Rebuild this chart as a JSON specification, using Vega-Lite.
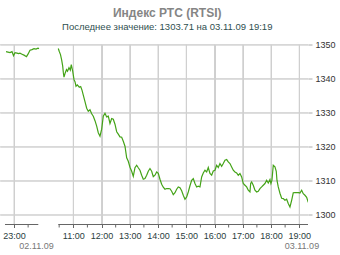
{
  "$schema": "https://vega.github.io/schema/vega-lite/v6.json",
  "width": 308,
  "height": 180,
  "autosize": "none",
  "padding": {"left": 0, "top": 44.5, "right": 32, "bottom": 30.5},
  "background": "white",
  "config": {"view": {"stroke": null}, "font": "Liberation Sans"},
  "title": {
    "text": "Индекс РТС (RTSI)",
    "subtitle": "Последнее значение: 1303.71 на 03.11.09 19:19",
    "anchor": "middle",
    "frame": "bounds",
    "font": "Liberation Sans",
    "fontSize": 12,
    "fontWeight": "bold",
    "color": "#858585",
    "subtitleFont": "Liberation Sans",
    "subtitleFontSize": 9.5,
    "subtitleColor": "#2f4f4f",
    "subtitlePadding": 2.5,
    "offset": 8
  },
  "layer": [
    {
      "data": {"values": [{"t": -0.099}, {"t": 2}, {"t": 3}, {"t": 4}, {"t": 5}, {"t": 6}, {"t": 7}, {"t": 8}, {"t": 9}, {"t": 10}]},
      "mark": {"type": "rule", "color": "#d0d0d0", "strokeWidth": 1},
      "encoding": {
        "x": {"field": "t", "type": "quantitative"}
      }
    },
    {
      "data": {"values": [{"v": 1300}, {"v": 1310}, {"v": 1320}, {"v": 1330}, {"v": 1340}, {"v": 1350}]},
      "mark": {"type": "rule", "color": "#d0d0d0", "strokeWidth": 1},
      "encoding": {
        "y": {"field": "v", "type": "quantitative"}
      }
    },
    {
      "data": {"values": [
        {"seg": 1, "t": -0.382, "v": 1348.0},
        {"seg": 1, "t": -0.312, "v": 1347.85},
        {"seg": 1, "t": -0.241, "v": 1347.71},
        {"seg": 1, "t": -0.17, "v": 1348.0},
        {"seg": 1, "t": -0.117, "v": 1346.82},
        {"seg": 1, "t": -0.064, "v": 1347.71},
        {"seg": 1, "t": 0.007, "v": 1347.56},
        {"seg": 1, "t": 0.06, "v": 1347.41},
        {"seg": 1, "t": 0.113, "v": 1347.56},
        {"seg": 1, "t": 0.184, "v": 1347.26},
        {"seg": 1, "t": 0.255, "v": 1346.97},
        {"seg": 1, "t": 0.343, "v": 1346.53},
        {"seg": 1, "t": 0.396, "v": 1347.26},
        {"seg": 1, "t": 0.467, "v": 1348.44},
        {"seg": 1, "t": 0.538, "v": 1348.59},
        {"seg": 1, "t": 0.609, "v": 1348.88},
        {"seg": 1, "t": 0.68, "v": 1348.74},
        {"seg": 1, "t": 0.75, "v": 1349.03},
        {"seg": 1, "t": 0.786, "v": 1348.88},
        {"seg": 2, "t": 1.469, "v": 1348.94},
        {"seg": 2, "t": 1.504, "v": 1348.06},
        {"seg": 2, "t": 1.547, "v": 1347.12},
        {"seg": 2, "t": 1.589, "v": 1345.5},
        {"seg": 2, "t": 1.625, "v": 1343.74},
        {"seg": 2, "t": 1.646, "v": 1341.97},
        {"seg": 2, "t": 1.671, "v": 1340.5},
        {"seg": 2, "t": 1.717, "v": 1341.82},
        {"seg": 2, "t": 1.759, "v": 1342.71},
        {"seg": 2, "t": 1.795, "v": 1342.26},
        {"seg": 2, "t": 1.848, "v": 1343.29},
        {"seg": 2, "t": 1.894, "v": 1342.56},
        {"seg": 2, "t": 1.929, "v": 1344.18},
        {"seg": 2, "t": 1.979, "v": 1342.26},
        {"seg": 2, "t": 2.025, "v": 1339.76},
        {"seg": 2, "t": 2.06, "v": 1339.18},
        {"seg": 2, "t": 2.096, "v": 1337.85},
        {"seg": 2, "t": 2.142, "v": 1338.24},
        {"seg": 2, "t": 2.212, "v": 1337.56},
        {"seg": 2, "t": 2.262, "v": 1337.76},
        {"seg": 2, "t": 2.308, "v": 1336.68},
        {"seg": 2, "t": 2.354, "v": 1335.21},
        {"seg": 2, "t": 2.414, "v": 1333.29},
        {"seg": 2, "t": 2.474, "v": 1331.38},
        {"seg": 2, "t": 2.531, "v": 1330.5},
        {"seg": 2, "t": 2.591, "v": 1330.94},
        {"seg": 2, "t": 2.651, "v": 1329.76},
        {"seg": 2, "t": 2.708, "v": 1329.03},
        {"seg": 2, "t": 2.768, "v": 1327.71},
        {"seg": 2, "t": 2.828, "v": 1326.09},
        {"seg": 2, "t": 2.885, "v": 1324.18},
        {"seg": 2, "t": 2.945, "v": 1323.15},
        {"seg": 2, "t": 3.005, "v": 1325.21},
        {"seg": 2, "t": 3.062, "v": 1329.03},
        {"seg": 2, "t": 3.122, "v": 1329.91},
        {"seg": 2, "t": 3.182, "v": 1328.82},
        {"seg": 2, "t": 3.239, "v": 1329.03},
        {"seg": 2, "t": 3.299, "v": 1326.88},
        {"seg": 2, "t": 3.359, "v": 1328.35},
        {"seg": 2, "t": 3.416, "v": 1328.15},
        {"seg": 2, "t": 3.476, "v": 1326.68},
        {"seg": 2, "t": 3.536, "v": 1324.47},
        {"seg": 2, "t": 3.593, "v": 1323.74},
        {"seg": 2, "t": 3.653, "v": 1322.94},
        {"seg": 2, "t": 3.713, "v": 1322.85},
        {"seg": 2, "t": 3.77, "v": 1321.68},
        {"seg": 2, "t": 3.83, "v": 1320.21},
        {"seg": 2, "t": 3.89, "v": 1316.82},
        {"seg": 2, "t": 3.947, "v": 1315.79},
        {"seg": 2, "t": 4.007, "v": 1314.03},
        {"seg": 2, "t": 4.067, "v": 1312.85},
        {"seg": 2, "t": 4.124, "v": 1311.38},
        {"seg": 2, "t": 4.184, "v": 1313.88},
        {"seg": 2, "t": 4.244, "v": 1314.62},
        {"seg": 2, "t": 4.301, "v": 1313.88},
        {"seg": 2, "t": 4.361, "v": 1313.15},
        {"seg": 2, "t": 4.421, "v": 1311.68},
        {"seg": 2, "t": 4.478, "v": 1310.5},
        {"seg": 2, "t": 4.538, "v": 1310.71},
        {"seg": 2, "t": 4.598, "v": 1311.68},
        {"seg": 2, "t": 4.655, "v": 1312.85},
        {"seg": 2, "t": 4.715, "v": 1313.65},
        {"seg": 2, "t": 4.775, "v": 1312.85},
        {"seg": 2, "t": 4.832, "v": 1311.24},
        {"seg": 2, "t": 4.892, "v": 1311.68},
        {"seg": 2, "t": 4.952, "v": 1312.65},
        {"seg": 2, "t": 5.009, "v": 1312.26},
        {"seg": 2, "t": 5.069, "v": 1310.5},
        {"seg": 2, "t": 5.129, "v": 1309.03},
        {"seg": 2, "t": 5.186, "v": 1308.15},
        {"seg": 2, "t": 5.246, "v": 1307.56},
        {"seg": 2, "t": 5.306, "v": 1307.76},
        {"seg": 2, "t": 5.363, "v": 1307.76},
        {"seg": 2, "t": 5.423, "v": 1307.71},
        {"seg": 2, "t": 5.483, "v": 1306.97},
        {"seg": 2, "t": 5.54, "v": 1305.94},
        {"seg": 2, "t": 5.6, "v": 1306.53},
        {"seg": 2, "t": 5.66, "v": 1307.56},
        {"seg": 2, "t": 5.717, "v": 1308.24},
        {"seg": 2, "t": 5.777, "v": 1308.0},
        {"seg": 2, "t": 5.837, "v": 1307.12},
        {"seg": 2, "t": 5.894, "v": 1305.79},
        {"seg": 2, "t": 5.954, "v": 1304.62},
        {"seg": 2, "t": 6.014, "v": 1305.29},
        {"seg": 2, "t": 6.071, "v": 1306.76},
        {"seg": 2, "t": 6.131, "v": 1308.59},
        {"seg": 2, "t": 6.191, "v": 1310.21},
        {"seg": 2, "t": 6.248, "v": 1310.71},
        {"seg": 2, "t": 6.308, "v": 1309.24},
        {"seg": 2, "t": 6.368, "v": 1308.24},
        {"seg": 2, "t": 6.425, "v": 1308.44},
        {"seg": 2, "t": 6.485, "v": 1308.24},
        {"seg": 2, "t": 6.545, "v": 1311.18},
        {"seg": 2, "t": 6.602, "v": 1312.35},
        {"seg": 2, "t": 6.662, "v": 1313.15},
        {"seg": 2, "t": 6.722, "v": 1312.65},
        {"seg": 2, "t": 6.779, "v": 1313.94},
        {"seg": 2, "t": 6.839, "v": 1312.18},
        {"seg": 2, "t": 6.899, "v": 1311.68},
        {"seg": 2, "t": 6.956, "v": 1312.94},
        {"seg": 2, "t": 7.016, "v": 1313.15},
        {"seg": 2, "t": 7.076, "v": 1314.62},
        {"seg": 2, "t": 7.133, "v": 1313.94},
        {"seg": 2, "t": 7.193, "v": 1315.12},
        {"seg": 2, "t": 7.253, "v": 1314.32},
        {"seg": 2, "t": 7.31, "v": 1315.12},
        {"seg": 2, "t": 7.37, "v": 1316.09},
        {"seg": 2, "t": 7.43, "v": 1316.29},
        {"seg": 2, "t": 7.487, "v": 1315.59},
        {"seg": 2, "t": 7.547, "v": 1315.12},
        {"seg": 2, "t": 7.607, "v": 1314.12},
        {"seg": 2, "t": 7.664, "v": 1313.15},
        {"seg": 2, "t": 7.724, "v": 1312.65},
        {"seg": 2, "t": 7.784, "v": 1312.35},
        {"seg": 2, "t": 7.841, "v": 1311.68},
        {"seg": 2, "t": 7.901, "v": 1312.18},
        {"seg": 2, "t": 7.961, "v": 1311.18},
        {"seg": 2, "t": 8.018, "v": 1309.24},
        {"seg": 2, "t": 8.078, "v": 1308.74},
        {"seg": 2, "t": 8.138, "v": 1308.24},
        {"seg": 2, "t": 8.195, "v": 1307.26},
        {"seg": 2, "t": 8.255, "v": 1306.76},
        {"seg": 2, "t": 8.28, "v": 1309.24},
        {"seg": 2, "t": 8.315, "v": 1309.71},
        {"seg": 2, "t": 8.372, "v": 1308.74},
        {"seg": 2, "t": 8.432, "v": 1307.26},
        {"seg": 2, "t": 8.492, "v": 1306.76},
        {"seg": 2, "t": 8.549, "v": 1306.97},
        {"seg": 2, "t": 8.609, "v": 1307.76},
        {"seg": 2, "t": 8.669, "v": 1308.24},
        {"seg": 2, "t": 8.726, "v": 1308.74},
        {"seg": 2, "t": 8.786, "v": 1309.24},
        {"seg": 2, "t": 8.846, "v": 1310.21},
        {"seg": 2, "t": 8.903, "v": 1309.41},
        {"seg": 2, "t": 8.963, "v": 1310.41},
        {"seg": 2, "t": 8.998, "v": 1309.24},
        {"seg": 2, "t": 9.034, "v": 1310.21},
        {"seg": 2, "t": 9.08, "v": 1314.62},
        {"seg": 2, "t": 9.14, "v": 1314.12},
        {"seg": 2, "t": 9.186, "v": 1312.85},
        {"seg": 2, "t": 9.211, "v": 1310.21},
        {"seg": 2, "t": 9.257, "v": 1308.24},
        {"seg": 2, "t": 9.317, "v": 1306.38},
        {"seg": 2, "t": 9.377, "v": 1304.91},
        {"seg": 2, "t": 9.434, "v": 1304.82},
        {"seg": 2, "t": 9.494, "v": 1304.32},
        {"seg": 2, "t": 9.554, "v": 1304.62},
        {"seg": 2, "t": 9.611, "v": 1303.35},
        {"seg": 2, "t": 9.671, "v": 1302.35},
        {"seg": 2, "t": 9.731, "v": 1304.32},
        {"seg": 2, "t": 9.788, "v": 1306.53},
        {"seg": 2, "t": 9.848, "v": 1306.59},
        {"seg": 2, "t": 9.908, "v": 1306.59},
        {"seg": 2, "t": 9.965, "v": 1306.59},
        {"seg": 2, "t": 10.025, "v": 1306.47},
        {"seg": 2, "t": 10.085, "v": 1307.26},
        {"seg": 2, "t": 10.142, "v": 1306.24},
        {"seg": 2, "t": 10.202, "v": 1305.79},
        {"seg": 2, "t": 10.262, "v": 1305.21},
        {"seg": 2, "t": 10.319, "v": 1303.71}
      ]},
      "mark": {"type": "line", "color": "#44a318", "strokeWidth": 1.2, "clip": true},
      "encoding": {
        "x": {
          "field": "t", "type": "quantitative",
          "scale": {"domain": [-0.595, 10.31], "nice": false, "zero": false},
          "axis": {
            "orient": "bottom",
            "title": null,
            "values": [-0.099, 2, 3, 4, 5, 6, 7, 8, 9, 10],
            "tickCount": 40,
            "labelExpr": "datum.value < 0 ? '23:00' : (datum.value + 9) + ':00'",
            "labelFont": "Liberation Sans",
            "labelFontSize": 9,
            "labelColor": "#2a3d3d",
            "labelOverlap": false,
            "labelFlush": false,
            "labelBound": false,
            "labelPadding": 4,
            "domain": false,
            "ticks": true,
            "tickSize": 3,
            "tickColor": "#666",
            "grid": true,
            "gridColor": "#cfcfcf"
          }
        },
        "y": {
          "field": "v", "type": "quantitative",
          "scale": {"domain": [1297.2, 1350.1], "nice": false, "zero": false},
          "axis": {
            "orient": "right",
            "title": null,
            "values": [1300, 1310, 1320, 1330, 1340, 1350],
            "tickCount": 40,
            "format": "d",
            "labelFont": "Liberation Sans",
            "labelFontSize": 9,
            "labelColor": "#333",
            "labelOverlap": false,
            "labelPadding": 3,
            "domain": false,
            "tickSize": 4,
            "tickColor": "#aaa",
            "grid": true,
            "gridColor": "#cfcfcf"
          }
        },
        "detail": {"field": "seg", "type": "nominal"}
      }
    },
    {
      "data": {"values": [{"t": -0.418, "t2": 0.761}, {"t": 1.469, "t2": 10.31}]},
      "mark": {"type": "rule", "color": "#666", "strokeWidth": 1},
      "encoding": {
        "x": {"field": "t", "type": "quantitative"},
        "x2": {"field": "t2"},
        "y": {"datum": 1297.2, "type": "quantitative"}
      }
    },
    {
      "data": {"values": [{"t": 0.401}, {"t": 1.5}, {"t": 2.5}, {"t": 3.5}, {"t": 4.5}, {"t": 5.5}, {"t": 6.5}, {"t": 7.5}, {"t": 8.5}, {"t": 9.5}]},
      "mark": {"type": "rule", "color": "#666", "strokeWidth": 1, "clip": false},
      "encoding": {
        "x": {"field": "t", "type": "quantitative"},
        "y": {"datum": 1297.2, "type": "quantitative"},
        "y2": {"datum": 1296.32}
      }
    },
    {
      "data": {"values": [{"t": 0.697, "label": "02.11.09"}, {"t": 10.096, "label": "03.11.09"}]},
      "mark": {"type": "text", "font": "Liberation Sans", "fontSize": 9, "color": "#777", "align": "center", "baseline": "middle", "clip": false},
      "encoding": {
        "x": {"field": "t", "type": "quantitative"},
        "y": {"datum": 1290.75, "type": "quantitative"},
        "text": {"field": "label"}
      }
    }
  ]
}
